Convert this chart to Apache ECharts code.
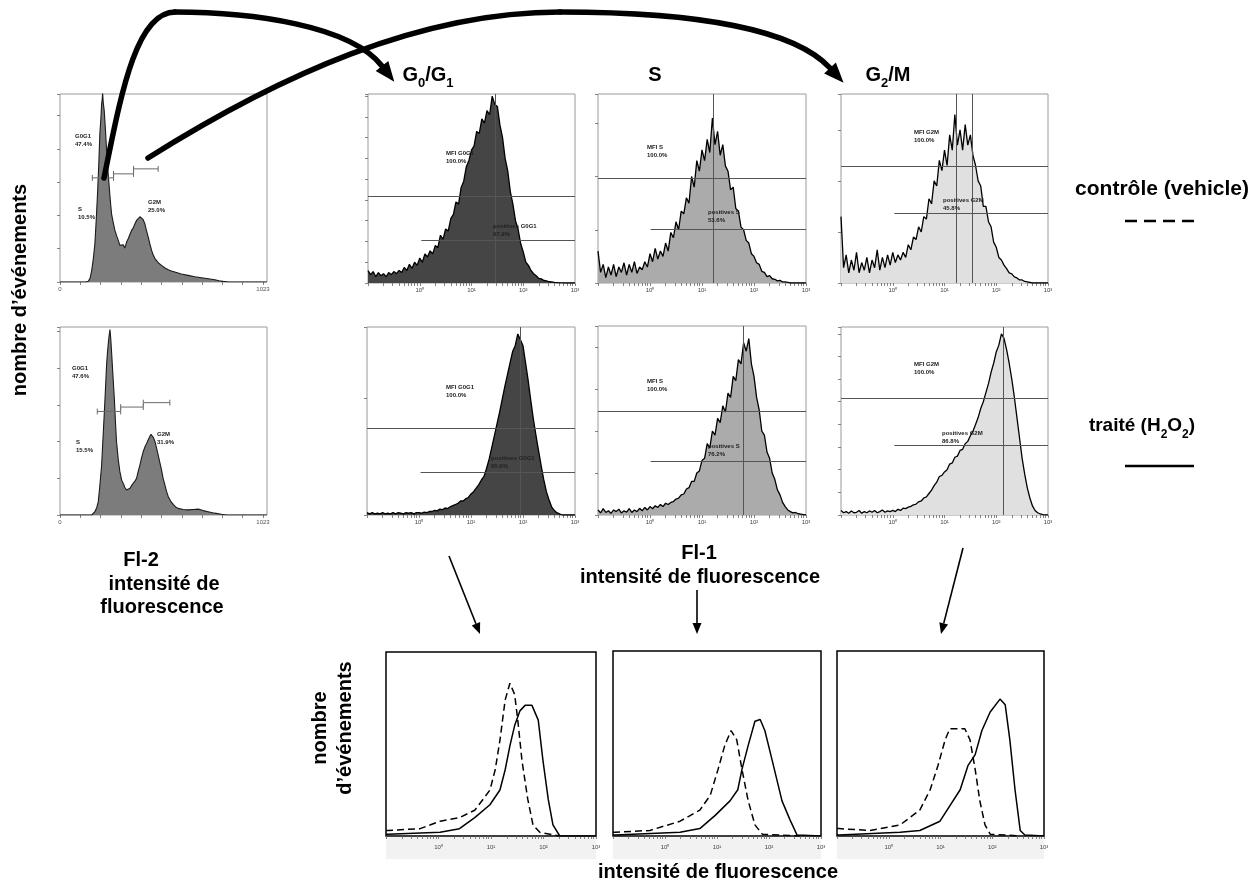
<!DOCTYPE html>
<html><head><meta charset="utf-8">
<script src="https://cdn.jsdelivr.net/npm/echarts@6/dist/echarts.min.js"></script>
<style>html,body{margin:0;padding:0;background:#fff}#c{width:1258px;height:888px}</style>
</head><body><div id="c"></div>
<script>
// ---------------- DATA ----------------
// DNA content histograms (Fl-2, channel 0-1023) : [channel, count units]
const dnaControl = [[0,0],[130,0],[143,0.02],[152,0.12],[160,0.35],[168,0.7],[176,1.15],[183,1.9],[190,2.75],[196,3.6],[201,4.45],[206,4.9],[210,5.35],[213,5.5],[215,5.68],[218,5.4],[223,5.15],[229,4.6],[235,3.95],[241,3.4],[247,2.95],[253,2.5],[260,2.05],[268,1.8],[277,1.55],[285,1.4],[294,1.25],[302,1.1],[311,1.05],[319,1.12],[327,1.02],[336,1.2],[344,1.3],[352,1.42],[361,1.55],[369,1.62],[378,1.75],[386,1.85],[395,1.9],[403,1.96],[411,1.97],[419,1.88],[428,1.75],[436,1.55],[445,1.35],[453,1.15],[462,0.95],[470,0.82],[479,0.7],[495,0.58],[512,0.5],[529,0.42],[546,0.37],[562,0.33],[579,0.3],[612,0.24],[646,0.2],[680,0.16],[714,0.13],[748,0.1],[781,0.07],[802,0.04],[823,0.02],[850,0],[1044,0]];
const dnaTreated = [[0,0],[160,0],[168,0.03],[176,0.09],[185,0.2],[193,0.36],[201,0.8],[210,1.36],[216,2.0],[223,2.73],[229,3.4],[235,4.09],[239,4.4],[243,4.64],[247,4.85],[252,5.05],[256,4.8],[260,4.45],[267,3.8],[274,3.18],[280,2.5],[285,2.0],[294,1.5],[302,1.18],[311,0.95],[319,0.86],[327,0.75],[336,0.68],[344,0.72],[353,0.73],[361,0.8],[369,0.86],[378,0.92],[386,1.0],[395,1.2],[403,1.36],[411,1.55],[420,1.73],[428,1.85],[437,1.95],[445,2.05],[453,2.14],[459,2.2],[465,2.23],[472,2.1],[479,2.0],[487,1.82],[495,1.64],[504,1.42],[512,1.23],[520,1.0],[529,0.82],[537,0.65],[546,0.5],[558,0.38],[571,0.29],[583,0.22],[596,0.18],[621,0.15],[646,0.14],[672,0.15],[697,0.16],[722,0.12],[747,0.09],[780,0.05],[814,0.02],[840,0],[1044,0]];
// region markers [from, to, level]
const dnaControlGates = [[163,270,3.13],[270,371,3.25],[371,495,3.4]];
const dnaTreatedGates = [[188,306,2.82],[306,420,2.94],[420,554,3.06]];

// Fl-1 log histograms, bins every 0.05 decade from 10^-1 to 10^3
const logStart = -1, logStep = 0.05;
const g01Control = [0.6,0.4,0.55,0.3,0.5,0.35,0.45,0.3,0.5,0.4,0.55,0.45,0.6,0.5,0.75,0.6,0.9,0.7,1.0,0.85,1.2,1.0,1.4,1.25,1.55,1.4,1.8,1.7,2.3,2.1,2.6,2.5,3.1,3.3,3.9,3.8,4.6,4.9,5.6,5.9,6.4,6.6,7.3,7.2,7.9,7.7,8.3,8.1,9.0,8.6,8.5,7.6,7.0,6.0,5.4,4.4,3.8,3.0,2.6,1.9,1.5,1.0,0.85,0.6,0.45,0.35,0.22,0.2,0.12,0.1,0.06,0.05,0.03,0.02,0.01,0.01,0,0,0,0,0];
const sControl = [0.6,0.2,0.35,0.1,0.3,0.15,0.35,0.12,0.3,0.2,0.38,0.15,0.35,0.2,0.4,0.18,0.3,0.25,0.4,0.3,0.55,0.4,0.65,0.45,0.6,0.5,0.75,0.6,0.95,0.85,1.15,1.0,1.35,1.3,1.6,1.5,2.0,1.8,2.3,2.1,2.5,2.3,2.7,2.45,3.1,2.6,2.85,2.4,2.6,2.2,2.1,1.75,1.8,1.4,1.35,1.05,1.0,0.8,0.75,0.55,0.5,0.38,0.35,0.22,0.2,0.12,0.14,0.08,0.07,0.04,0.05,0.02,0.02,0.01,0,0,0,0,0,0,0];
const g2mControl = [1.3,0.3,0.55,0.2,0.45,0.25,0.6,0.2,0.4,0.25,0.5,0.2,0.45,0.3,0.65,0.25,0.5,0.3,0.55,0.35,0.6,0.4,0.55,0.45,0.6,0.5,0.75,0.65,0.9,0.85,1.1,1.0,1.3,1.25,1.65,1.55,2.0,1.9,2.4,2.2,2.6,2.3,2.9,2.6,3.3,2.7,3.0,2.6,3.1,2.7,2.9,2.5,2.3,2.0,1.9,1.5,1.5,1.2,1.1,0.8,0.7,0.5,0.45,0.35,0.28,0.2,0.18,0.12,0.1,0.06,0.06,0.03,0.02,0.01,0,0,0,0,0,0,0];
const g01Treated = [0.02,0.01,0.02,0.01,0.015,0.01,0.02,0.01,0.015,0.01,0.02,0.01,0.02,0.015,0.01,0.02,0.015,0.02,0.01,0.02,0.02,0.015,0.025,0.02,0.03,0.03,0.04,0.035,0.05,0.045,0.06,0.055,0.07,0.08,0.09,0.1,0.12,0.12,0.14,0.15,0.18,0.2,0.23,0.26,0.3,0.33,0.4,0.48,0.58,0.68,0.78,0.88,0.99,1.1,1.2,1.3,1.4,1.45,1.55,1.5,1.45,1.3,1.15,0.98,0.82,0.68,0.55,0.42,0.3,0.2,0.13,0.07,0.04,0.02,0.01,0,0,0,0,0,0];
const sTreated = [0.12,0.05,0.15,0.06,0.1,0.04,0.12,0.08,0.14,0.05,0.1,0.07,0.15,0.06,0.12,0.08,0.16,0.1,0.18,0.12,0.2,0.15,0.22,0.18,0.25,0.2,0.28,0.25,0.3,0.32,0.38,0.4,0.48,0.5,0.62,0.65,0.8,0.8,1.0,1.05,1.3,1.35,1.7,1.6,2.0,1.9,2.3,2.2,2.6,2.45,2.9,2.8,3.3,3.2,3.7,3.6,4.1,3.9,4.2,3.6,3.3,2.8,2.5,2.0,1.9,1.5,1.35,1.0,0.85,0.6,0.48,0.3,0.2,0.12,0.08,0.05,0.06,0.03,0.02,0.01,0];
const g2mTreated = [0.2,0.1,0.15,0.08,0.18,0.1,0.12,0.2,0.08,0.15,0.1,0.18,0.12,0.2,0.1,0.15,0.22,0.12,0.18,0.15,0.2,0.15,0.25,0.2,0.3,0.28,0.35,0.38,0.45,0.48,0.58,0.62,0.75,0.8,0.95,1.1,1.3,1.45,1.7,1.75,1.9,2.0,2.25,2.3,2.55,2.6,2.85,2.9,3.15,3.25,3.5,3.7,4.0,4.3,4.7,5.0,5.4,5.8,6.3,6.7,7.2,7.5,8.0,7.8,7.3,6.7,6.0,5.2,4.3,3.4,2.5,1.8,1.2,0.75,0.4,0.2,0.1,0.05,0.02,0.01,0];
// marker levels: [MFI line level, positives line level, positives start (log10), peak lines (log10)]
const g01ControlMarks = [4.19, 2.08, 0.03, [1.455]];
const sControlMarks   = [1.96, 1.01, 0.01, [1.21]];
const g2mControlMarks = [2.29, 1.36, 0.03, [1.22, 1.53]];
const g01TreatedMarks = [0.743, 0.366, 0.03, [1.95]];
const sTreatedMarks   = [2.48, 1.28, 0.01, [1.79]];
const g2mTreatedMarks = [5.15, 3.06, 0.03, [2.13]];

// overlays (bottom) : [log10 intensity, relative count]
const ovG01Control = [[-1,0.03],[-0.96,0.03],[-0.35,0.04],[0.03,0.08],[0.4,0.1],[0.69,0.14],[0.85,0.2],[0.98,0.25],[1.08,0.36],[1.17,0.52],[1.27,0.74],[1.36,0.83],[1.45,0.77],[1.51,0.63],[1.59,0.41],[1.7,0.2],[1.8,0.06],[1.93,0.02],[2.31,0]];
const ovG01Treated = [[-1,0.01],[-0.96,0.01],[0.03,0.02],[0.4,0.04],[0.69,0.1],[0.98,0.17],[1.17,0.25],[1.27,0.36],[1.36,0.49],[1.45,0.6],[1.55,0.68],[1.65,0.71],[1.78,0.71],[1.9,0.63],[1.99,0.41],[2.09,0.2],[2.18,0.06],[2.31,0],[3,0]];
const ovSControl = [[-1,0.02],[-0.96,0.02],[-0.29,0.03],[0.29,0.08],[0.67,0.14],[0.87,0.22],[1.02,0.36],[1.15,0.49],[1.27,0.57],[1.38,0.52],[1.48,0.36],[1.6,0.19],[1.73,0.06],[1.87,0.01],[2.6,0]];
const ovSTreated = [[-1,0.005],[-0.96,0.005],[0.29,0.02],[0.67,0.04],[0.96,0.11],[1.25,0.19],[1.4,0.25],[1.48,0.36],[1.6,0.49],[1.73,0.62],[1.83,0.63],[1.92,0.57],[2.06,0.41],[2.25,0.19],[2.4,0.09],[2.54,0.005],[3,0]];
const ovG2mControl = [[-1,0.04],[-0.96,0.04],[-0.36,0.03],[0.22,0.06],[0.6,0.14],[0.8,0.25],[0.95,0.38],[1.09,0.52],[1.18,0.58],[1.47,0.58],[1.57,0.52],[1.67,0.36],[1.76,0.19],[1.86,0.06],[1.96,0.01],[2.54,0]];
const ovG2mTreated = [[-1,0.005],[-0.96,0.005],[0.22,0.02],[0.6,0.03],[0.99,0.08],[1.38,0.25],[1.53,0.38],[1.67,0.44],[1.8,0.57],[1.96,0.67],[2.15,0.74],[2.25,0.71],[2.34,0.52],[2.44,0.25],[2.54,0.03],[2.63,0.005],[3,0]];

const logTickLabels = ['10\u2070','10\u00b9','10\u00b2','10\u00b3'];
const dnaTickLabels = ['0','1023'];

// ---------------- CHART ----------------
const FONT = 'Liberation Sans, Arial, Helvetica, sans-serif';
const chart = echarts.init(document.getElementById('c'));

const gridBoxes = [
  [60,94,207,188],[368,94,207,189],[598,94,208,189],[841,94,207,189],
  [60,327,207,188],[367,327,208,188],[598,326,208,189],[841,327,207,188],
  [386,652,210,184],[613,651,208,185],[837,651,207,185]
];
const yMax = [5.65,9.1,3.55,3.7,5.12,1.61,4.5,8.3,1,1,1];

const minorLog = [];
for (let k = -1; k <= 2; k++) for (let m = 1; m <= 9; m++) minorLog.push(k + Math.log10(m));
minorLog.push(3);

const grids = gridBoxes.map((b, i) => ({
  left: b[0], top: b[1], width: b[2], height: b[3], show: true,
  borderColor: i >= 8 ? '#000' : '#9a9a9a', borderWidth: i >= 8 ? 1.5 : 1,
  backgroundColor: '#fff', containLabel: false
}));

const xAxes = gridBoxes.map((b, i) => {
  const dna = (i === 0 || i === 4);
  if (dna) return {
    gridIndex: i, type: 'value', min: 0, max: 1044,
    axisLine: {show: false, onZero: false}, splitLine: {show: false},
    axisTick: {show: true, length: 3, customValues: [0,102.4,204.8,307.2,409.6,512,614.4,716.8,819.2,921.6,1024], lineStyle: {color: '#666', width: 0.8}},
    axisLabel: {show: true, customValues: [0, 1024], formatter: v => v === 0 ? dnaTickLabels[0] : dnaTickLabels[1], fontSize: 6, color: '#555', margin: 4, fontFamily: FONT}
  };
  return {
    gridIndex: i, type: 'value', min: -1, max: 3,
    axisLine: {show: false, onZero: false}, splitLine: {show: false},
    axisTick: {show: true, length: 3, customValues: minorLog, lineStyle: {color: '#666', width: 0.8}},
    axisLabel: {show: true, customValues: [0,1,2,3], formatter: v => logTickLabels[Math.round(v)], fontSize: 6, color: '#444', margin: i >= 8 ? 8 : 4, fontFamily: FONT}
  };
});

const yAxes = gridBoxes.map((b, i) => ({
  gridIndex: i, type: 'value', min: 0, max: yMax[i], interval: 1, position: 'left',
  axisLine: {show: false, onZero: false}, splitLine: {show: false}, axisLabel: {show: false},
  axisTick: {show: i < 8, length: 3, lineStyle: {color: '#666', width: 0.8}}
}));

function gateData(gates, h) {
  const out = [];
  gates.forEach(g => {
    out.push([g[0], g[2]-h],[g[0], g[2]+h],['-','-'],[g[0], g[2]],[g[1], g[2]],['-','-'],[g[1], g[2]-h],[g[1], g[2]+h],['-','-']);
  });
  return out;
}
function binData(vals) { return vals.map((v, i) => [logStart + i * logStep, v]); }

const series = [];
// DNA panels
[[0, dnaControl, dnaControlGates, 0.09], [4, dnaTreated, dnaTreatedGates, 0.08]].forEach(p => {
  series.push({type: 'line', xAxisIndex: p[0], yAxisIndex: p[0], data: p[1], symbol: 'none', silent: true,
    lineStyle: {color: '#1a1a1a', width: 1.1}, areaStyle: {color: '#7c7c7c', opacity: 1}});
  series.push({type: 'line', xAxisIndex: p[0], yAxisIndex: p[0], data: gateData(p[2], p[3]), symbol: 'none', silent: true,
    connectNulls: false, lineStyle: {color: '#6a6a6a', width: 1}, z: 5});
});
// log panels
[[1, g01Control, g01ControlMarks, '#454545'], [2, sControl, sControlMarks, '#ababab'], [3, g2mControl, g2mControlMarks, '#e0e0e0'],
 [5, g01Treated, g01TreatedMarks, '#454545'], [6, sTreated, sTreatedMarks, '#ababab'], [7, g2mTreated, g2mTreatedMarks, '#e0e0e0']].forEach(p => {
  const m = p[2];
  const ml = [{yAxis: m[0]}, [{coord: [m[2], m[1]]}, {coord: [3, m[1]]}]];
  m[3].forEach(x => ml.push({xAxis: x}));
  series.push({type: 'line', xAxisIndex: p[0], yAxisIndex: p[0], data: binData(p[1]), symbol: 'none', silent: true,
    lineStyle: {color: '#000', width: 1.3}, areaStyle: {color: p[3], opacity: 1},
    markLine: {silent: true, symbol: ['none','none'], label: {show: false},
      lineStyle: {color: '#555', width: 1, type: 'solid'}, data: ml}});
});
// overlay panels
[[8, ovG01Control, ovG01Treated], [9, ovSControl, ovSTreated], [10, ovG2mControl, ovG2mTreated]].forEach(p => {
  series.push({type: 'line', xAxisIndex: p[0], yAxisIndex: p[0], data: p[1], symbol: 'none', silent: true,
    lineStyle: {color: '#000', width: 1.5, type: [7, 4]}});
  series.push({type: 'line', xAxisIndex: p[0], yAxisIndex: p[0], data: p[2], symbol: 'none', silent: true,
    lineStyle: {color: '#000', width: 1.5, type: 'solid'}});
});

// ---------------- ANNOTATIONS ----------------
const g = [];
// light band under the overlay panels
[[386,837,210],[613,837,208],[837,837,207]].forEach(r => g.push({type: 'rect', z: -1, shape: {x: r[0], y: r[1], width: r[2], height: 22}, style: {fill: '#f2f2f2'}}));
function txt(s, x, y, size, opts) {
  g.push(Object.assign({type: 'text', x: x, y: y, z: 100, style: Object.assign({text: s, fontSize: size, fontWeight: 'bold', fontFamily: FONT, fill: '#000', textAlign: 'center', textVerticalAlign: 'middle'}, opts && opts.style || {})}, opts && opts.el || {}));
}
function small(s, x, y) {
  g.push({type: 'text', x: x, y: y, z: 100, style: {text: s, fontSize: 6, fontWeight: 'bold', fontFamily: FONT, fill: '#222', textAlign: 'left', textVerticalAlign: 'top', lineHeight: 8}});
}
// panel stats
small('G0G1\n47.4%', 75, 132); small('S\n10.5%', 78, 205); small('G2M\n25.0%', 148, 198);
small('G0G1\n47.6%', 72, 364); small('S\n15.5%', 76, 438); small('G2M\n31.9%', 157, 430);
small('MFI G0G1\n100.0%', 446, 149); small('positives G0G1\n67.9%', 493, 222);
small('MFI S\n100.0%', 647, 143); small('positives S\n53.6%', 708, 208);
small('MFI G2M\n100.0%', 914, 128); small('positives G2M\n45.8%', 943, 196);
small('MFI G0G1\n100.0%', 446, 383); small('positives G0G1\n95.6%', 491, 454);
small('MFI S\n100.0%', 647, 377); small('positives S\n76.2%', 708, 442);
small('MFI G2M\n100.0%', 914, 360); small('positives G2M\n86.8%', 942, 429);

// headers
const subRich = {a: {fontSize: 20, fontWeight: 'bold', fontFamily: FONT, fill: '#000'}, b: {fontSize: 13, fontWeight: 'bold', fontFamily: FONT, fill: '#000', verticalAlign: 'bottom', padding: [0,0,-5,0]}};
g.push({type: 'text', x: 428, y: 75, z: 100, style: {text: '{a|G}{b|0}{a|/G}{b|1}', rich: subRich, textAlign: 'center', textVerticalAlign: 'middle'}});
txt('S', 655, 75, 20);
g.push({type: 'text', x: 888, y: 75, z: 100, style: {text: '{a|G}{b|2}{a|/M}', rich: subRich, textAlign: 'center', textVerticalAlign: 'middle'}});

// row labels
txt('contr\u00f4le (vehicle)', 1162, 189, 21);
const subRich2 = {a: {fontSize: 19, fontWeight: 'bold', fontFamily: FONT, fill: '#000'}, b: {fontSize: 12, fontWeight: 'bold', fontFamily: FONT, fill: '#000', verticalAlign: 'bottom', padding: [0,0,-5,0]}};
g.push({type: 'text', x: 1142, y: 426, z: 100, style: {text: '{a|trait\u00e9 (H}{b|2}{a|O}{b|2}{a|)}', rich: subRich2, textAlign: 'center', textVerticalAlign: 'middle'}});
g.push({type: 'line', shape: {x1: 1125, y1: 221, x2: 1194, y2: 221}, style: {stroke: '#000', lineWidth: 2.5, lineDash: [12, 7]}});
g.push({type: 'line', shape: {x1: 1125, y1: 466, x2: 1194, y2: 466}, style: {stroke: '#000', lineWidth: 2.5}});

// axis titles
txt('nombre d\u2019\u00e9v\u00e9nements', 20, 290, 20, {el: {rotation: Math.PI / 2}});
txt('Fl-2', 141, 560, 20);
txt('intensit\u00e9 de', 164, 584, 20);
txt('fluorescence', 162, 607, 20);
txt('Fl-1', 699, 553, 20);
txt('intensit\u00e9 de fluorescence', 700, 577, 20);
txt('nombre', 320, 728, 20, {el: {rotation: Math.PI / 2}});
txt('d\u2019\u00e9v\u00e9nements', 345, 728, 20, {el: {rotation: Math.PI / 2}});
txt('intensit\u00e9 de fluorescence', 718, 872, 20);

// arrows
function head(ex, ey, dx, dy, len, half, fill) {
  const n = Math.hypot(dx, dy); dx /= n; dy /= n;
  const tx = ex + dx * len, ty = ey + dy * len;
  g.push({type: 'polygon', z: 50, shape: {points: [[tx, ty], [ex - dy * half, ey + dx * half], [ex + dy * half, ey - dx * half]]}, style: {fill: fill || '#000'}});
}
function bez(p0, c1, c2, p3, w) {
  g.push({type: 'bezierCurve', z: 50, shape: {x1: p0[0], y1: p0[1], cpx1: c1[0], cpy1: c1[1], cpx2: c2[0], cpy2: c2[1], x2: p3[0], y2: p3[1]}, style: {stroke: '#000', lineWidth: w, fill: null, lineCap: 'round'}});
}
bez([104,178],[120,100],[135,12],[175,12],5.5);
bez([175,12],[250,12],[350,25],[382,66],5.5);
head(382,66,32,41,20,8);
bez([148,158],[280,75],[420,12],[560,12],5.5);
bez([560,12],[700,12],[795,30],[830,68],5.5);
head(830,68,35,38,20,8);
// small arrows
function straight(x1,y1,x2,y2) {
  const dx = x2-x1, dy = y2-y1, n = Math.hypot(dx,dy);
  const ex = x2 - dx/n*11, ey = y2 - dy/n*11;
  g.push({type: 'line', z: 50, shape: {x1: x1, y1: y1, x2: ex, y2: ey}, style: {stroke: '#000', lineWidth: 1.6}});
  head(ex, ey, dx, dy, 11, 4.5);
}
straight(449,556,480,634);
straight(697,590,697,634);
straight(963,548,941,634);

chart.setOption({
  animation: false,
  backgroundColor: '#fff',
  grid: grids, xAxis: xAxes, yAxis: yAxes, series: series,
  graphic: {elements: g}
});
</script></body></html>
